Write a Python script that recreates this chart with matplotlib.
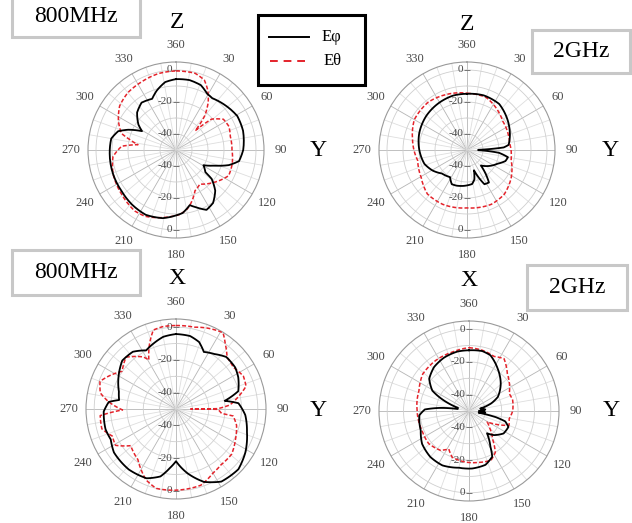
import numpy as np
import matplotlib
matplotlib.use("Agg")
from matplotlib import pyplot as plt
from matplotlib.patches import Rectangle
from matplotlib.lines import Line2D

plt.rcParams['font.family'] = ['Liberation Serif', 'DejaVu Serif']

W, H = 632, 523
RMIN, RMAX = -50, 5

# 800MHz, Z-Y plane
zy800_phi_deg = [0, 11, 21, 29, 35, 46, 61, 74, 90, 100, 106, 112, 119, 127, 129, 136, 145, 153, 160, 166,
                 174, 180, 191, 205, 219, 233, 249, 267, 280, 288, 293, 299, 304, 314, 324, 335, 342, 351, 360]
zy800_phi_db = [-5.7, -5.5, -6.6, -9.8, -10.5, -8.7, -6.2, -6.4, -8, -10, -15.7, -24, -30.4, -27, -21.3, -14.7,
                -9.6, -8, -11.7, -14.5, -10.4, -9.1, -6.6, -5.3, -6.2, -7.4, -7.9, -8.5, -8.9, -12, -17.6, -25.7,
                -21.7, -16.2, -13.4, -14.7, -11, -7, -5.7]
zy800_theta_deg = [0, 14, 22, 28, 34, 40, 45, 49, 57, 66, 76, 90, 104, 116, 131, 145, 155, 164, 170, 177, 191,
                   205, 214, 231, 249, 264, 274, 278, 283, 287, 297, 308, 320, 333, 347, 360]
zy800_theta_db = [-0.6, -0.6, -2.8, -7.7, -14, -22, -33, -20.6, -14.7, -13.8, -15, -15, -13.8, -13.4, -19, -24,
                  -21.9, -15.7, -12, -9.6, -7, -4.3, -4, -6.2, -7.9, -10.4, -16, -26, -20, -14.3, -9.6, -5.3,
                  -3.2, -2.3, -1, -0.6]

# 2GHz, Z-Y plane
zy2g_phi_deg = [0, 17, 35, 49, 64, 83, 86, 89, 91, 95, 100, 106, 114, 138, 142, 146, 153, 161, 166, 171.5, 185,
                196, 204, 212, 227, 239, 252, 270, 290, 310, 330, 346, 360]
zy2g_phi_db = [-14.9, -14.3, -14.9, -17.6, -20.4, -23.8, -27, -43, -43, -30, -24, -25, -29, -37, -31, -25.5,
               -26, -36.6, -31, -28.5, -27.5, -26.8, -26.6, -30, -28.5, -25, -22, -20.2, -18.3, -16.8, -15.7,
               -14.9, -14.9]
zy2g_theta_deg = [0, 20, 34, 51, 67, 81, 103, 122, 140, 156, 180, 204, 222, 239, 258, 281, 300, 321, 340, 360]
zy2g_theta_db = [-14.5, -15, -17.9, -21.3, -22.3, -23, -21.7, -17.4, -13.8, -12.8, -13.8, -12.8, -13, -16.6,
                 -18.5, -15.3, -12, -11.5, -13, -14.5]

# 800MHz, X-Y plane
xy800_phi_deg = [0, 11, 19, 26, 35, 44, 55, 63, 74, 80.5, 84.7, 95, 108, 122, 134, 148, 159, 170, 180, 186,
                 193, 203, 218, 235, 245, 254, 268, 276, 279, 287, 301, 312, 323, 333, 341, 350, 360]
xy800_phi_db = [-4.2, -4.6, -6.7, -11.2, -9, -5.8, -5.8, -7.3, -10.4, -19.8, -11.7, -7.5, -4.4, 0, 3, 2.3,
                -2.3, -10.2, -18.1, -13.7, -7.7, -4, -3.1, -3.7, -6, -5.2, -5.8, -8.7, -14.8, -13.5, -9.2,
                -5.8, -6.2, -9.8, -7.7, -5.2, -4.2]
xy800_theta_deg = [0, 12.5, 21, 31.6, 37, 44.6, 54, 64, 72, 78.6, 85.7, 89.5, 90, 90.5, 95.6, 97, 105, 117,
                   129, 141, 150, 162, 180, 194, 203, 210, 217, 231, 239, 247, 255, 265, 269, 276, 282, 290,
                   296, 305, 316, 328, 331, 338, 344, 351, 360]
xy800_theta_db = [1, 1.2, 3, 4.8, 0, -5.6, -6.7, -4.2, -5, -11, -17, -24.4, -41, -24.4, -22, -14.8, -11.7,
                  -9.2, -6.2, -6.2, -4.8, -1, -0.4, 0, -3, -7.3, -11.3, -14.4, -6.9, -7.7, -3.1, -3.5, -17.3,
                  -8.7, -2.7, -0.6, -4.2, -9.8, -6, -12.5, -15.8, -6.9, 0.2, 1, 1]

# 2GHz, X-Y plane
xy2g_phi_deg = [0, 12.5, 21, 34, 49, 64, 71, 78, 85, 90, 95, 100, 103, 106, 112, 123, 134, 141, 149, 153, 163,
                177, 190, 206, 220, 235, 248, 265, 272, 276, 280, 286, 291, 295, 299, 309, 321.5, 335, 349, 360]
xy2g_phi_db = [-12.9, -12.5, -13.5, -18.7, -24.3, -30.4, -35.6, -43, -40, -44, -40, -44, -33, -27, -24, -24.8,
               -28.8, -32.5, -24.6, -18.7, -15.6, -14.8, -14.8, -13, -13.3, -15, -18.2, -19.5, -23, -32, -43,
               -43, -36, -30, -24.4, -18.7, -15.7, -14, -13, -12.9]
xy2g_theta_deg = [0, 12.4, 24.6, 33.8, 45.8, 66.6, 76, 90, 101, 109.7, 121, 128.7, 140, 147.6, 156, 169, 184,
                  200, 208, 216, 231, 247.5, 270, 292, 308.7, 326.7, 344, 360]
xy2g_theta_db = [-11.3, -12, -13.3, -11.5, -17.3, -23.2, -22.5, -23.3, -25, -24, -37, -34, -27.6, -20, -17, -18,
                 -18.7, -19.9, -23.7, -20.3, -18.3, -18.9, -18.3, -17, -13.8, -13, -12.6, -11.3]

angle_labels = ['360', '30', '60', '90', '120', '150', '180', '210', '240', '270', '300', '330']

RED = '#e4232b'
GRAY_TXT = '#4a4a4a'


def fx(x):
    return x / W


def fy(y):
    return 1 - y / H


def polar_panel(fig, cx, cy, R, phi, theta):
    ax = fig.add_axes([fx(cx - R), fy(cy + R), 2 * R / W, 2 * R / H], projection='polar')
    ax.set_theta_zero_location('N')
    ax.set_theta_direction(-1)
    ax.set_ylim(RMIN, RMAX)

    # spokes and rings
    for a in range(0, 360, 10):
        c = '#b5b5b5' if a % 30 == 0 else '#dedede'
        ax.plot([np.radians(a)] * 2, [RMIN, RMAX], color=c, lw=0.6, zorder=1)
    ring_t = np.linspace(0, 2 * np.pi, 361)
    for r in [-40, -30, -20, -10, 0]:
        ax.plot(ring_t, [r] * len(ring_t), color='#cfcfcf', lw=0.6, zorder=1)
    ax.grid(False)
    ax.set_yticks([])
    ax.set_xticks(np.radians(np.arange(0, 360, 30)))
    ax.set_xticklabels(angle_labels, fontsize=9, color=GRAY_TXT)
    ax.tick_params(axis='x', pad=2)
    ax.spines['polar'].set_color('#9a9a9a')
    ax.spines['polar'].set_linewidth(0.8)

    # radial labels along the vertical axis
    for t in [0, np.pi]:
        for r, s in [(0, '0'), (-20, '-20'), (-40, '-40')]:
            ax.plot(t, r, marker='_', ms=5, mew=0.7, color='#777777', zorder=2)
            ax.annotate(s, xy=(t, r), xytext=(-2.5, 0), textcoords='offset points',
                        ha='right', va='center', fontsize=8, color=GRAY_TXT, zorder=2)

    red, = ax.plot(np.radians(theta[0]), theta[1], color=RED, lw=1.1, ls=(0, (2.6, 1.4)), zorder=3)
    blk, = ax.plot(np.radians(phi[0]), phi[1], color='black', lw=1.3, zorder=4)
    # let the polar transform bend each segment along the angle
    for ln in (red, blk):
        ln.get_path()._interpolation_steps = 8
    return ax


fig = plt.figure(figsize=(W / 100, H / 100), dpi=100)

polar_panel(fig, 176, 150, 88, (zy800_phi_deg, zy800_phi_db), (zy800_theta_deg, zy800_theta_db))
polar_panel(fig, 467, 150, 88, (zy2g_phi_deg, zy2g_phi_db), (zy2g_theta_deg, zy2g_theta_db))
polar_panel(fig, 176, 409, 90, (xy800_phi_deg, xy800_phi_db), (xy800_theta_deg, xy800_theta_db))
polar_panel(fig, 469, 411, 90, (xy2g_phi_deg, xy2g_phi_db), (xy2g_theta_deg, xy2g_theta_db))


def label_box(x0, y0, x1, y1, text, fs=17):
    fig.patches.append(Rectangle((fx(x0), fy(y1)), fx(x1) - fx(x0), fy(y0) - fy(y1),
                                 transform=fig.transFigure, facecolor='white',
                                 edgecolor='#c8c8c8', lw=2.2, zorder=5))
    fig.text(fx((x0 + x1) / 2), fy((y0 + y1) / 2), text, ha='center', va='center',
             fontsize=fs, zorder=6)


label_box(12, -3, 140, 37, '800MHz')
label_box(12, 250, 140, 295, '800MHz')
label_box(532, 30, 630, 73, '2GHz')
label_box(527, 265, 627, 310, '2GHz')

# axis names
for x, y, s in [(177, 23, 'Z'), (467, 24, 'Z'), (318, 151, 'Y'), (610, 151, 'Y'),
                (177, 279, 'X'), (469, 280, 'X'), (318, 410, 'Y'), (611, 410, 'Y')]:
    fig.text(fx(x), fy(y), s, ha='center', va='center', fontsize=17, zorder=6)

# legend
fig.patches.append(Rectangle((fx(258), fy(85)), fx(365) - fx(258), fy(15) - fy(85),
                             transform=fig.transFigure, facecolor='white',
                             edgecolor='black', lw=2.2, zorder=5))
fig.lines.append(Line2D([fx(269), fx(309)], [fy(37), fy(37)], transform=fig.transFigure,
                        color='black', lw=1.4, zorder=6))
fig.lines.append(Line2D([fx(270), fx(308)], [fy(61), fy(61)], transform=fig.transFigure,
                        color=RED, lw=1.4, ls=(0, (4, 3)), zorder=6))
fig.text(fx(322), fy(37), 'Eφ', ha='left', va='center', fontsize=12, zorder=6)
fig.text(fx(324), fy(61), 'Eθ', ha='left', va='center', fontsize=12, zorder=6)

fig.savefig('out.png', dpi=100)
